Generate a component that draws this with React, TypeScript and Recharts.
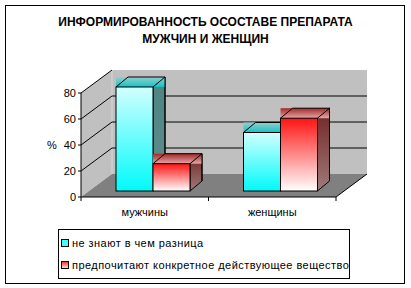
import React from "react";
import { BarChart, Bar, XAxis, YAxis, CartesianGrid, ReferenceArea } from "recharts";

const categories = ["мужчины", "женщины"];
const dontKnow = [80, 45];
const preferSubstance = [21, 56];
const yTicks = [0, 20, 40, 60, 80];
const seriesNames = ["не знают в чем разница", "предпочитают конкретное действующее вещество"];
const titleLines = ["ИНФОРМИРОВАННОСТЬ ОСОСТАВЕ ПРЕПАРАТА", "МУЖЧИН И ЖЕНЩИН"];

const data = categories.map((name, i) => ({ name, a: dontKnow[i], b: preferSubstance[i] }));

const W = 411;
const H = 288;
const M = { top: 93, right: 75, left: 0, bottom: 71 };
const X_AXIS_H = 20;
const PLOT_TOP = M.top;
const PLOT_BOTTOM = H - M.bottom - X_AXIS_H;

// wall depth, bar plane shift, bar depth
const WX = 31, WY = -23;
const BX = 8, BY = -6;
const SX = 12, SY = -10;

const FONT = '"Liberation Sans", Arial, sans-serif';

const Defs = () => (
  <defs>
    <linearGradient id="aFront" x1="0" y1="0" x2="0" y2="1">
      <stop offset="0%" stopColor="#D2FFFF" />
      <stop offset="100%" stopColor="#00FAFA" />
    </linearGradient>
    <linearGradient id="aTop" x1="0" y1="0" x2="0" y2="1">
      <stop offset="0%" stopColor="#98CCCC" />
      <stop offset="100%" stopColor="#10C4C4" />
    </linearGradient>
    <linearGradient id="aSide" x1="0" y1="0" x2="0" y2="1">
      <stop offset="0%" stopColor="#4E8482" />
      <stop offset="100%" stopColor="#5E8E8C" />
    </linearGradient>
    <linearGradient id="bFront" x1="0" y1="0" x2="0" y2="1">
      <stop offset="0%" stopColor="#FF1414" />
      <stop offset="100%" stopColor="#FFFFFF" />
    </linearGradient>
    <linearGradient id="bTop" x1="0" y1="0" x2="0" y2="1">
      <stop offset="0%" stopColor="#A82828" />
      <stop offset="100%" stopColor="#E0A8A8" />
    </linearGradient>
    <linearGradient id="bSide" x1="0" y1="0" x2="0" y2="1">
      <stop offset="0%" stopColor="#702424" />
      <stop offset="100%" stopColor="#A07A7A" />
    </linearGradient>
  </defs>
);

function Walls(props: any) {
  const { x, y, width, height } = props;
  const b = y + height;
  return (
    <g>
      <Defs />
      <polygon points={`${x},${b} ${x},${y} ${x + WX},${y + WY} ${x + WX},${b + WY}`} fill="#C0C0C0" />
      <rect x={x + WX} y={y + WY} width={width} height={height} fill="#C0C0C0" />
      <line x1={x + WX} y1={y + WY} x2={x + WX} y2={b + WY} stroke="#D6D6D6" />
      <polygon points={`${x},${b} ${x + width},${b} ${x + width + WX},${b + WY} ${x + WX},${b + WY}`} fill="#808080" />
      <line x1={x + width} y1={b} x2={x + width + WX} y2={b + WY} stroke="#000" />
    </g>
  );
}

function GridLine(props: any) {
  const { x1, x2, y1 } = props;
  if (Math.abs(y1 - PLOT_BOTTOM) < 1) return <g />;
  const isTop = Math.abs(y1 - PLOT_TOP) < 1;
  return (
    <g>
      <line x1={x1} y1={y1} x2={x1 + WX} y2={y1 + WY} stroke="#000" />
      {!isTop && <line x1={x1 + WX} y1={y1 + WY} x2={x2 + WX} y2={y1 + WY} stroke="#000" />}
    </g>
  );
}

function Box3D(props: any, key: string) {
  const { x, y, width, height } = props;
  if (height == null || height <= 0) return <g />;
  const x0 = x + BX;
  const y0 = y + BY;
  const r = x0 + width;
  const b = y0 + height;
  return (
    <g>
      <polygon points={`${r},${y0} ${r + SX},${y0 + SY} ${r + SX},${b + SY} ${r},${b}`} fill={`url(#${key}Side)`} stroke="#000" />
      <rect x={x0} y={y0 + SY} width={width + SX} height={-SY} fill={`url(#${key}Top)`} />
      <line x1={x0} y1={y0} x2={x0 + SX} y2={y0 + SY} stroke="#000" />
      <line x1={x0 + SX} y1={y0 + SY} x2={r + SX} y2={y0 + SY} stroke="#000" />
      <line x1={r} y1={y0} x2={r + SX} y2={y0 + SY} stroke="#000" />
      <line x1={r + SX} y1={y0 + SY} x2={r + SX} y2={b + SY} stroke="#000" />
      <rect x={x0} y={y0} width={width} height={height} fill={`url(#${key}Front)`} stroke="#000" />
    </g>
  );
}

function CategoryTick(props: any) {
  const { x, y, payload, index } = props;
  const half = payload && payload.offset ? payload.offset : 63.75;
  return (
    <g>
      <line x1={x - half} y1={y - 8} x2={x - half} y2={y - 4} stroke="#000" />
      {index === categories.length - 1 && (
        <line x1={x + half} y1={y - 8} x2={x + half} y2={y - 4} stroke="#000" />
      )}
      <text x={x} y={y + 11} textAnchor="middle" fontSize={11} fontFamily={FONT} fill="#000">
        {payload.value}
      </text>
    </g>
  );
}

export default function App() {
  return (
    <div style={{ position: "absolute", left: 0, top: 0, width: W, height: H, background: "#fff", fontFamily: FONT }}>
      <div
        style={{
          position: "absolute", left: 5, top: 5, width: 398, height: 277,
          border: "1px solid #000", boxSizing: "content-box",
        }}
      />
      <div
        style={{
          position: "absolute", left: 0, top: 14, width: 411, textAlign: "center",
          fontSize: 12, fontWeight: "bold", lineHeight: "17px", color: "#000",
        }}
      >
        {titleLines.map((t) => (
          <div key={t}>{t}</div>
        ))}
      </div>
      <div style={{ position: "absolute", left: 0, top: 0 }}>
        <BarChart width={W} height={H} data={data} margin={M} barCategoryGap={27} barGap={0}>
          <ReferenceArea y1={0} y2={80} ifOverflow="visible" shape={Walls} zIndex={-200} />
          <CartesianGrid vertical={false} horizontal={GridLine} />
          <XAxis
            dataKey="name"
            height={X_AXIS_H}
            axisLine={{ stroke: "#000" }}
            tickLine={false}
            tick={CategoryTick}
            interval={0}
          />
          <YAxis
            width={81}
            domain={[0, 80]}
            ticks={yTicks}
            interval={0}
            tickSize={3}
            axisLine={{ stroke: "#000" }}
            tickLine={{ stroke: "#000" }}
            tick={{ fontSize: 11, fill: "#000", fontFamily: FONT }}
            label={{ value: "%", position: "insideLeft", offset: 47, fontSize: 11, fill: "#000", fontFamily: FONT }}
          />
          <Bar dataKey="a" name={seriesNames[0]} fill="#00FFFF" isAnimationActive={false} shape={(p: any) => Box3D(p, "a")} />
          <Bar dataKey="b" name={seriesNames[1]} fill="#FF2020" isAnimationActive={false} shape={(p: any) => Box3D(p, "b")} />
        </BarChart>
      </div>
      <div
        style={{
          position: "absolute", left: 58, top: 229, width: 290, height: 48,
          border: "1px solid #000", background: "#fff", fontSize: 11, color: "#000",
        }}
      >
        {seriesNames.map((n, i) => (
          <div key={n} style={{ position: "absolute", left: 2, top: 7 + i * 22, display: "flex", alignItems: "center", whiteSpace: "nowrap" }}>
            <span
              style={{
                display: "inline-block", width: 6, height: 6, border: "1px solid #000", marginRight: 3,
                background: i === 0 ? "#40FFFF" : "linear-gradient(#FF3030, #FFE0E0)",
              }}
            />
            <span style={{ letterSpacing: 0.45 }}>{n}</span>
          </div>
        ))}
      </div>
    </div>
  );
}
